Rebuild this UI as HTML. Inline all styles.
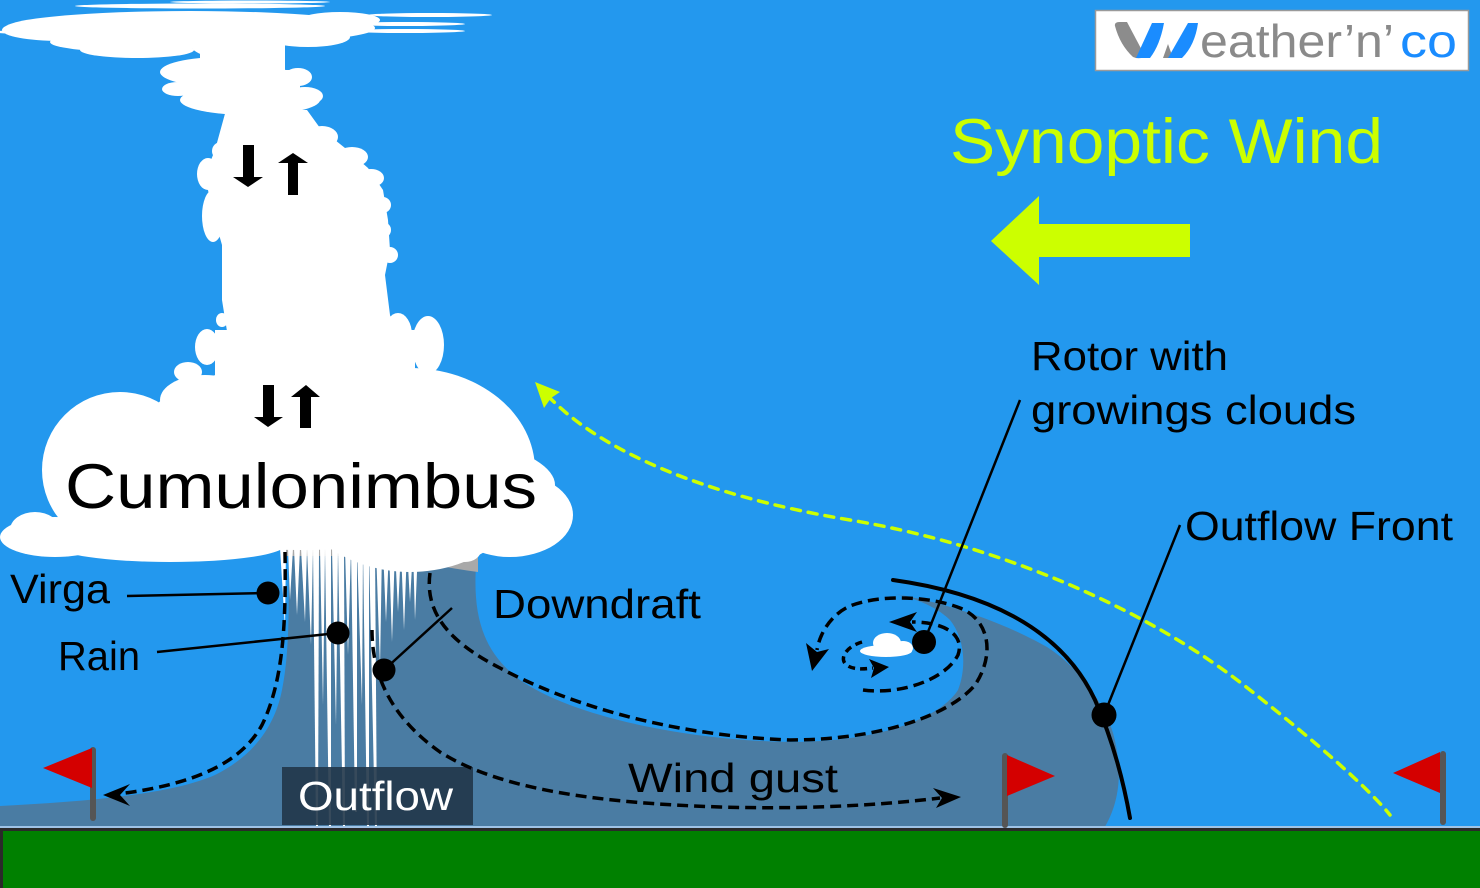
<!DOCTYPE html>
<html>
<head>
<meta charset="utf-8">
<style>
html,body{margin:0;padding:0;background:#2398EE;}
svg{display:block;}
text{font-family:"Liberation Sans",sans-serif;}
</style>
</head>
<body>
<svg width="1480" height="888" viewBox="0 0 1480 888" xmlns="http://www.w3.org/2000/svg">
  <!-- sky -->
  <rect x="0" y="0" width="1480" height="888" fill="#2398EE"/>

  <!-- outflow gray region -->
  <path fill="#4A7CA3" d="M 0 806 C 80 802, 170 795, 215 775 C 255 755, 275 725, 282 690 C 288 660, 290 620, 288 545 L 478 545
    C 470 610, 480 650, 520 680 C 570 715, 680 740, 790 742 C 880 742, 940 718, 958 690 C 966 670, 966 640, 950 620 C 935 605, 910 597, 895 594
    C 930 600, 990 615, 1047 647 C 1080 668, 1105 705, 1113 733 C 1122 765, 1122 800, 1103 830 L 0 830 Z"/>

  <!-- light gray band under cloud -->
  <path fill="#A9A9A9" d="M283 545 H478 V572 Q455 569 430 564 L418 556 H283 Z"/>

  <!-- rain streaks -->
  <g fill="#FFFFFF">
    <polygon points="280,548 286,548 285,628"/>
    <polygon points="288,548 293,548 290,600"/>
    <polygon points="294,548 300,548 297,615"/>
    <polygon points="301,548 307,548 305,622"/>
    <polygon points="307,548 313,548 311,645"/>
    <polygon points="313,548 319,548 318,828 316,828"/>
    <polygon points="320,548 325,548 323,705"/>
    <polygon points="325,548 331,548 331,828 329,828"/>
    <polygon points="332,548 338,548 336,725"/>
    <polygon points="338,548 344,548 345,828 343,828"/>
    <polygon points="345,548 351,548 348,655"/>
    <polygon points="351,548 357,548 357,812 355,812"/>
    <polygon points="357,548 363,548 362,705"/>
    <polygon points="363,548 369,548 369,828 367,828"/>
    <polygon points="369,548 375,548 377,828 375,828"/>
    <polygon points="376,548 382,548 380,668"/>
    <polygon points="383,548 389,548 386,622"/>
    <polygon points="389,548 395,548 392,642"/>
    <polygon points="395,548 401,548 398,612"/>
    <polygon points="401,548 407,548 404,630"/>
    <polygon points="407,548 413,548 410,602"/>
    <polygon points="413,548 418,548 415,620"/>
  </g>

  <!-- main cloud -->
  <g fill="#FFFFFF">
    <!-- anvil streaks -->
    <ellipse cx="200" cy="6" rx="125" ry="2.5"/>
    <ellipse cx="250" cy="2" rx="80" ry="1.5"/>
    <ellipse cx="430" cy="15" rx="62" ry="2"/>
    <ellipse cx="405" cy="24" rx="60" ry="2"/>
    <ellipse cx="405" cy="31" rx="60" ry="2"/>
    <ellipse cx="10" cy="32" rx="16" ry="1.5"/>
    <!-- anvil -->
    <ellipse cx="190" cy="28" rx="185" ry="17"/>
    <ellipse cx="60" cy="30" rx="58" ry="11"/>
    <ellipse cx="130" cy="42" rx="80" ry="10"/>
    <ellipse cx="137" cy="50" rx="57" ry="8"/>
    <ellipse cx="238" cy="45" rx="47" ry="15"/>
    <ellipse cx="308" cy="37" rx="42" ry="10"/>
    <ellipse cx="340" cy="20" rx="40" ry="8"/>
    <rect x="200" y="40" width="85" height="40"/>
    <!-- upper column -->
    <ellipse cx="223" cy="72" rx="63" ry="15"/>
    <ellipse cx="298" cy="77" rx="14" ry="9"/>
    <ellipse cx="178" cy="89" rx="16" ry="7"/>
    <ellipse cx="250" cy="100" rx="70" ry="15"/>
    <ellipse cx="305" cy="96" rx="18" ry="9"/>
    <rect x="190" y="70" width="110" height="30"/>
    <!-- column -->
    <path d="M 226 110 L 307 110 L 320 128 L 345 148 L 368 168 L 383 190 L 388 220 L 390 250 L 385 275 L 390 315 L 400 350 L 230 350 L 222 300 L 222 245 L 212 210 L 205 175 L 215 150 Z"/>
    <ellipse cx="322" cy="137" rx="16" ry="11"/>
    <ellipse cx="352" cy="157" rx="16" ry="10"/>
    <ellipse cx="371" cy="178" rx="13" ry="9"/>
    <ellipse cx="383" cy="205" rx="8" ry="8"/>
    <ellipse cx="385" cy="230" rx="6" ry="7"/>
    <ellipse cx="390" cy="255" rx="8" ry="8"/>
    <ellipse cx="221" cy="151" rx="9" ry="9"/>
    <ellipse cx="208" cy="174" rx="11" ry="16"/>
    <ellipse cx="213" cy="216" rx="11" ry="26"/>
    <ellipse cx="222" cy="320" rx="6" ry="7"/>
    <ellipse cx="207" cy="347" rx="12" ry="18"/>
    <ellipse cx="188" cy="372" rx="14" ry="10"/>
    <ellipse cx="185" cy="387" rx="14" ry="7"/>
    <ellipse cx="398" cy="335" rx="14" ry="22"/>
    <ellipse cx="428" cy="345" rx="16" ry="29"/>
    <rect x="215" y="330" width="200" height="60"/>
    <!-- body -->
    <ellipse cx="410" cy="470" rx="125" ry="102"/>
    <ellipse cx="120" cy="470" rx="78" ry="78"/>
    <ellipse cx="205" cy="400" rx="45" ry="25"/>
    <ellipse cx="260" cy="440" rx="120" ry="70"/>
    <ellipse cx="300" cy="485" rx="255" ry="65"/>
    <ellipse cx="510" cy="515" rx="63" ry="42"/>
    <ellipse cx="55" cy="537" rx="55" ry="20"/>
    <ellipse cx="35" cy="530" rx="25" ry="18"/>
    <ellipse cx="170" cy="545" rx="115" ry="17"/>
    <ellipse cx="440" cy="550" rx="22" ry="11"/>
    <ellipse cx="465" cy="550" rx="16" ry="12"/>
    <!-- rotor small cloud -->
    <ellipse cx="886" cy="651" rx="26" ry="6"/>
    <ellipse cx="887" cy="643" rx="14" ry="10"/>
    <ellipse cx="903" cy="648" rx="10" ry="7"/>
  </g>

  <!-- ground -->
  <rect x="0" y="826" width="1480" height="2" fill="#9FC3E6"/>
  <rect x="0" y="828" width="1480" height="60" fill="#008000"/>
  <rect x="0" y="828" width="1480" height="3" fill="#2a2a2a"/>
  <rect x="0" y="828" width="3" height="60" fill="#2a2a2a"/>

  <!-- Outflow label box -->
  <rect x="282" y="767" width="191" height="58" fill="#213649" opacity="0.9"/>
  <text x="298" y="810" font-size="41" fill="#FFFFFF" textLength="155" lengthAdjust="spacingAndGlyphs">Outflow</text>

  <!-- black dashed paths -->
  <g fill="none" stroke="#000" stroke-width="3.5" stroke-dasharray="11 6">
    <path d="M 285 552 C 286 620, 284 680, 262 725 C 240 765, 190 785, 118 794"/>
    <path d="M 372 630 C 372 680, 395 720, 440 752 C 500 790, 600 803, 720 807 C 820 810, 900 803, 940 798"/>
    <path d="M 430 573 C 425 610, 445 640, 500 668 C 560 700, 660 735, 790 740 C 880 740, 950 715, 975 685 C 995 655, 990 620, 960 608 C 930 596, 880 594, 850 606 C 832 614, 820 632, 817 650"/>
    <path d="M 863 690 C 900 695, 945 680, 958 655 C 965 635, 945 622, 912 622"/>
    <path d="M 862 642 C 845 647, 838 660, 848 666 C 855 670, 865 669, 873 668" stroke-dasharray="7 5"/>
  </g>
  <g fill="#000">
    <polygon points="103,795 130,784 120,795 130,806"/>
    <polygon points="961,797 933,788 942,798 936,808"/>
    <polygon points="812,671 806,643 817,652 829,649"/>
    <polygon points="889,622 917,612 910,622 917,632"/>
    <polygon points="889,667 869,659 874,668 871,678"/>
  </g>

  <!-- outflow front curve -->
  <path d="M 893 580 C 980 592, 1060 625, 1095 700 C 1115 745, 1125 790, 1130 818" fill="none" stroke="#000" stroke-width="4" stroke-linecap="round"/>

  <!-- yellow dashed curve -->
  <path d="M 548 396 C 600 450, 700 495, 850 520 C 1000 545, 1150 610, 1250 690 C 1320 745, 1370 790, 1390 815" fill="none" stroke="#CCFF00" stroke-width="3.5" stroke-dasharray="9 8" stroke-linecap="round"/>
  <polygon points="535,382 560,392 551,398 544,408" fill="#CCFF00"/>

  <!-- leader lines -->
  <g stroke="#000" stroke-width="2.5" fill="none">
    <line x1="127" y1="596" x2="268" y2="593"/>
    <line x1="157" y1="652" x2="338" y2="633"/>
    <line x1="384" y1="670" x2="452" y2="608"/>
    <line x1="924" y1="642" x2="1020" y2="400"/>
    <line x1="1104" y1="715" x2="1180" y2="525"/>
  </g>
  <g fill="#000">
    <circle cx="268" cy="593" r="11.5"/>
    <circle cx="338" cy="633" r="11.5"/>
    <circle cx="384" cy="670" r="11.5"/>
    <circle cx="924" cy="642" r="12"/>
    <circle cx="1104" cy="715" r="12.5"/>
  </g>

  <!-- cloud arrows -->
  <g fill="#000">
    <polygon points="243,145 254,145 254,177 263,177 248,187 233,177 243,177"/>
    <polygon points="293,153 308,163 298,163 298,195 288,195 288,163 278,163"/>
    <polygon points="263,385 274,385 274,417 283,417 268,427 254,417 263,417"/>
    <polygon points="306,385 320,397 311,397 311,428 300,428 300,397 291,397"/>
  </g>

  <!-- flags -->
  <g stroke="#555" stroke-width="6" stroke-linecap="round">
    <line x1="93" y1="750" x2="93" y2="818"/>
    <line x1="1005" y1="756" x2="1005" y2="825"/>
    <line x1="1443" y1="754" x2="1443" y2="822"/>
  </g>
  <g fill="#D40000">
    <polygon points="92,748 43,768 92,788"/>
    <polygon points="1007,755 1055,776 1007,796"/>
    <polygon points="1440,752 1393,773 1440,793"/>
  </g>

  <!-- labels -->
  <g fill="#000" font-size="41">
    <text x="10" y="603" textLength="100" lengthAdjust="spacingAndGlyphs">Virga</text>
    <text x="58" y="670" textLength="82" lengthAdjust="spacingAndGlyphs">Rain</text>
    <text x="493" y="618" textLength="208" lengthAdjust="spacingAndGlyphs">Downdraft</text>
    <text x="628" y="792" textLength="210" lengthAdjust="spacingAndGlyphs">Wind gust</text>
    <text x="1031" y="370" textLength="197" lengthAdjust="spacingAndGlyphs">Rotor with</text>
    <text x="1031" y="424" textLength="325" lengthAdjust="spacingAndGlyphs">growings clouds</text>
    <text x="1185" y="540" textLength="268" lengthAdjust="spacingAndGlyphs">Outflow Front</text>
  </g>
  <text x="65" y="508" font-size="63" fill="#000" textLength="472" lengthAdjust="spacingAndGlyphs">Cumulonimbus</text>

  <!-- synoptic wind -->
  <text x="950" y="163" font-size="63" fill="#CCFF00" textLength="433" lengthAdjust="spacingAndGlyphs">Synoptic Wind</text>
  <polygon points="991,241 1039,196 1039,224 1190,224 1190,257 1039,257 1039,285" fill="#CCFF00"/>

  <!-- logo -->
  <rect x="1095.5" y="10.5" width="373" height="60" fill="#FFFFFF" stroke="#9A9A9A" stroke-width="1.5"/>
  <path d="M1115 26 Q1114 22 1120 22 L1127 22 L1145 56 Q1140 60 1133 57 Q1120 45 1115 26 Z" fill="#8C8C8C"/>
  <path d="M1152 23 L1164 23 Q1160 45 1150 58 L1136 58 Z" fill="#1A8CFF"/>
  <path d="M1163 58 L1168 44 L1173 58 Z" fill="#8C8C8C"/>
  <path d="M1188 23 L1198 23 Q1195 45 1182 58 L1168 58 Z" fill="#1A8CFF"/>
  <text x="1200" y="57" font-size="46" fill="#8A8A8A" textLength="194" lengthAdjust="spacingAndGlyphs">eather’n’</text>
  <text x="1400" y="57" font-size="46" fill="#1A8CFF" textLength="57" lengthAdjust="spacingAndGlyphs">co</text>
</svg>
</body>
</html>
